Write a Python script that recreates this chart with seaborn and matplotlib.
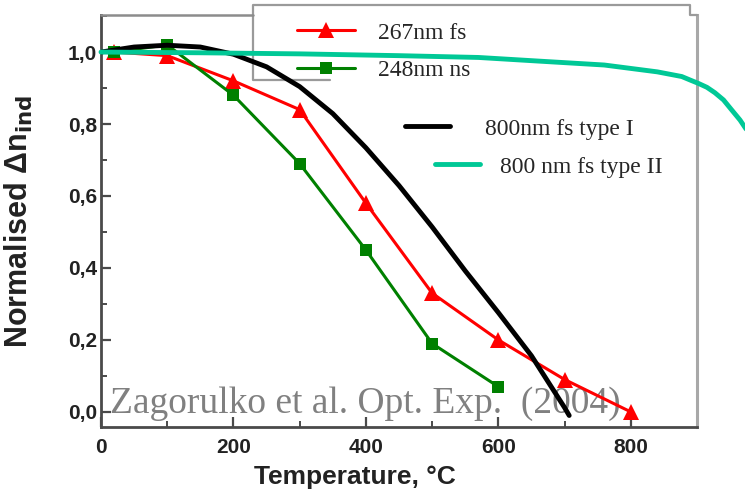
import matplotlib
matplotlib.use("Agg")
import matplotlib.pyplot as plt
import seaborn as sns
from matplotlib.lines import Line2D
from matplotlib.ticker import MultipleLocator, FuncFormatter

# Annealing data: normalised induced index change vs temperature
temp_267 = [20, 100, 200, 300, 400, 500, 600, 700, 800]
dn_267 = [1.0, 0.99, 0.92, 0.84, 0.58, 0.33, 0.20, 0.09, 0.0]

temp_248 = [20, 100, 200, 300, 400, 500, 600]
dn_248 = [1.0, 1.02, 0.88, 0.69, 0.45, 0.19, 0.07]

temp_type1 = [0, 50, 100, 150, 200, 250, 300, 350, 400, 450, 500, 550, 600,
              650, 700, 707]
dn_type1 = [1.0, 1.014, 1.019, 1.014, 0.994, 0.959, 0.904, 0.829, 0.734, 0.629,
            0.514, 0.392, 0.276, 0.156, 0.012, -0.01]

temp_type2 = [0, 150, 300, 450, 570, 660, 760, 840, 877, 890, 902, 915, 927,
              940, 952, 965, 977, 990]
dn_type2 = [1.0, 0.998, 0.995, 0.99, 0.985, 0.975, 0.964, 0.945, 0.932, 0.922,
            0.913, 0.902, 0.887, 0.867, 0.84, 0.811, 0.778, 0.74]

labels = ["267nm fs", "248nm ns", "800nm fs type I", "800 nm fs type II"]
colors = ["#ff0000", "#008000", "#000000", "#00c896"]

sns.set_theme(style="ticks")
plt.rcParams["font.family"] = ["Liberation Sans", "DejaVu Sans"]

W, H = 745, 495
fig = plt.figure(figsize=(W / 100, H / 100), dpi=100)
fig.patch.set_facecolor("white")


def fx(px):
    return px / W


def fy(py):
    return 1 - py / H


ax = fig.add_axes([fx(101), fy(427), fx(697) - fx(101), fy(15) - fy(427)])
ax.set_facecolor("white")

sns.lineplot(x=temp_267, y=dn_267, ax=ax, color=colors[0], marker="^",
             markersize=11, markeredgewidth=0, linewidth=2.2, label=labels[0],
             zorder=4)
sns.lineplot(x=temp_248, y=dn_248, ax=ax, color=colors[1], marker="s",
             markersize=9, markeredgewidth=0, linewidth=2.2, label=labels[1],
             zorder=4)
sns.lineplot(x=temp_type1, y=dn_type1, ax=ax, color=colors[2], linewidth=3.5,
             label=labels[2], zorder=5, solid_joinstyle="round")
sns.lineplot(x=temp_type2, y=dn_type2, ax=ax, color=colors[3], linewidth=3.5,
             label=labels[3], zorder=6, clip_on=False, solid_joinstyle="round")

ax.set_xlim(0, 900)
ax.set_ylim(-0.042, 1.103)
ax.xaxis.set_major_locator(MultipleLocator(200))
ax.xaxis.set_minor_locator(MultipleLocator(100))
ax.yaxis.set_major_locator(MultipleLocator(0.2))
ax.yaxis.set_minor_locator(MultipleLocator(0.1))
ax.yaxis.set_major_formatter(FuncFormatter(lambda v, p: f"{v:.1f}".replace(".", ",")))

tick_col = "#4a4a4a"
ax.tick_params(axis="both", which="major", direction="in", length=7, width=1.6,
               color=tick_col, labelsize=15, labelcolor="#222222")
ax.tick_params(axis="both", which="minor", direction="in", length=4, width=1.4,
               color=tick_col)
ax.tick_params(axis="x", which="major", pad=8)
ax.tick_params(axis="y", which="major", pad=3)
for lab in ax.get_xticklabels() + ax.get_yticklabels():
    lab.set_fontweight("bold")

for side in ["left", "bottom"]:
    ax.spines[side].set_color(tick_col)
    ax.spines[side].set_linewidth(2.0)
ax.spines["right"].set_color("#a8a8a8")
ax.spines["right"].set_linewidth(2.2)
ax.spines["top"].set_visible(False)

ax.set_xlabel("Temperature, °C", fontsize=19, fontweight="bold", color="#222222")
ax.xaxis.set_label_coords((355 - 101) / 596, -0.092)
ax.set_ylabel(r"Normalised Δn$_\mathbf{ind}$", fontsize=22, fontweight="bold",
              color="#222222")
ax.yaxis.set_label_coords(-0.11, (427 - 221) / 412)

# Partial top spine plus the outline of the key box
fig.add_artist(Line2D([fx(101), fx(253)], [fy(15), fy(15)], color="#8c8c8c",
                      linewidth=1.8, zorder=3))
ax.add_artist(Line2D([fx(330), fx(253), fx(253), fx(690), fx(690), fx(697)],
                     [fy(80), fy(80), fy(5), fy(5), fy(15), fy(15)],
                     transform=fig.transFigure, color="#9a9a9a", linewidth=1.6,
                     clip_on=False, zorder=3))

handles, labs = ax.get_legend_handles_labels()
ax.get_legend().remove()
serif = {"family": "Liberation Serif", "size": 17}

leg1 = ax.legend(handles[:2], labs[:2], loc="upper left",
                 bbox_to_anchor=(fx(297), fy(22)), bbox_transform=fig.transFigure,
                 frameon=False, prop=serif, handlelength=2.45, handletextpad=1.0,
                 labelspacing=0.68, borderpad=0, borderaxespad=0)
ax.add_artist(leg1)
leg2 = ax.legend(handles[2:3], labs[2:3], loc="upper left",
                 bbox_to_anchor=(fx(405), fy(118)), bbox_transform=fig.transFigure,
                 frameon=False, prop=serif, handlelength=1.9, handletextpad=1.5,
                 borderpad=0, borderaxespad=0)
ax.add_artist(leg2)
leg3 = ax.legend(handles[3:4], labs[3:4], loc="upper left",
                 bbox_to_anchor=(fx(435), fy(156)), bbox_transform=fig.transFigure,
                 frameon=False, prop=serif, handlelength=1.9, handletextpad=0.85,
                 borderpad=0, borderaxespad=0)

ax.text(fx(110), fy(413), "Zagorulko et al. Opt. Exp.  (2004)",
        transform=fig.transFigure, fontsize=27, family="Liberation Serif",
        color="#808080", va="baseline", ha="left", zorder=1)

fig.savefig("out.png", dpi=100, facecolor="white")
